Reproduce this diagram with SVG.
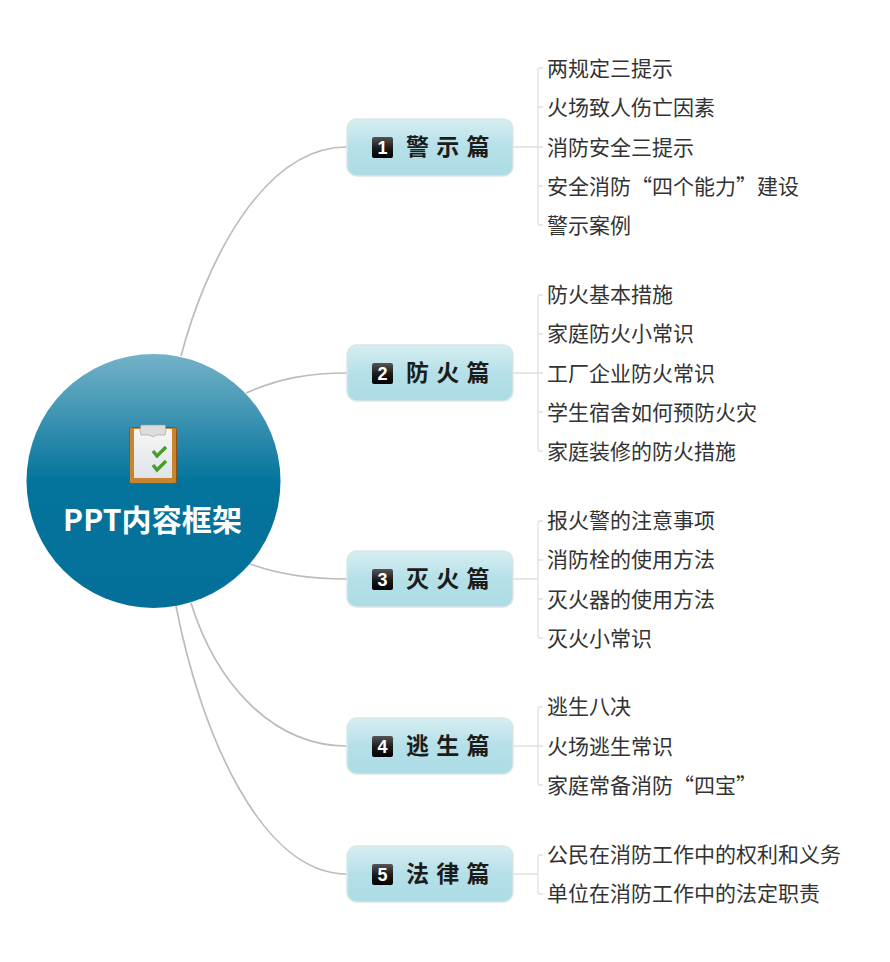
<svg xmlns="http://www.w3.org/2000/svg" width="890" height="962" viewBox="0 0 890 962">
<style>
text{font-family:"Noto Sans CJK SC","Liberation Sans",sans-serif}
.leaf{font-size:21px;fill:#333}
.title{font-size:23px;font-weight:700;fill:#1c1c1c;word-spacing:2px}
.box{fill:url(#bx);stroke:#dbe5e7;stroke-width:1.5}
.bad{fill:url(#bd)}
.num{font-size:18px;font-weight:700;fill:#fff;text-anchor:middle;font-family:"Liberation Sans",sans-serif}
.main{fill:none;stroke:#bcbcbc;stroke-width:1.7}
.sub{fill:none;stroke:#e0e0e0;stroke-width:1.3}
</style>
<defs>
<linearGradient id="bx" x1="0" y1="0" x2="0" y2="1"><stop offset="0" stop-color="#d6eef2"/><stop offset=".5" stop-color="#b5e0e8"/><stop offset="1" stop-color="#acdce5"/></linearGradient>
<linearGradient id="bd" x1="0" y1="0" x2="0" y2="1"><stop offset="0" stop-color="#555"/><stop offset=".5" stop-color="#1c1c1c"/><stop offset="1" stop-color="#000"/></linearGradient>
<linearGradient id="ci" x1="0" y1="0" x2="0" y2="1"><stop offset="0" stop-color="#74b2c8"/><stop offset=".5" stop-color="#04749c"/><stop offset="1" stop-color="#04709a"/></linearGradient>
<linearGradient id="pa" x1="0" y1="0" x2="0" y2="1"><stop offset="0" stop-color="#f6f6f4"/><stop offset="1" stop-color="#dfe4ea"/></linearGradient>
</defs>
<g id="connectors">
<path class="main" d="M181 356C205 265 262 147 347 147"/>
<path class="main" d="M246 393C280 378 310 373 347 373"/>
<path class="main" d="M250 564C280 575 310 579 347 579"/>
<path class="main" d="M191 603C215 680 270 746 347 746"/>
<path class="main" d="M176 606C200 730 260 874 347 874"/>
<path class="sub" d="M513 147H543M543 68H540Q538 68 538 70V223Q538 225 540 225H543M538 107H543M538 186H543"/>
<path class="sub" d="M513 373H543M543 295H540Q538 295 538 297V449Q538 451 540 451H543M538 334H543M538 412H543"/>
<path class="sub" d="M513 579H538M543 521H540Q538 521 538 523V636Q538 638 540 638H543M538 560H543M538 599H543"/>
<path class="sub" d="M513 746H543M543 707H540Q538 707 538 709V783Q538 785 540 785H543"/>
<path class="sub" d="M513 874H538M543 855H540Q538 855 538 857V892Q538 894 540 894H543"/>
</g>
<g id="center">
<circle cx="153.500" cy="481" r="127" fill="url(#ci)"/>
<g id="clipboard">
<rect x="129.500" y="427.500" width="47" height="56" rx="2" fill="#c8842f" stroke="#8a5218"/>
<rect x="134" y="429" width="38" height="49" fill="url(#pa)"/>
<path d="M141 425H165Q167 431 165 435H157L153 437L149 435H141Q139 431 141 425Z" fill="#dcdcdc" stroke="#999" stroke-width=".6"/>
<path d="M153 451L157 456L166 447" fill="none" stroke="#4a9c2c" stroke-width="3.400"/>
<path d="M153 465L157 470L166 461" fill="none" stroke="#4a9c2c" stroke-width="3.400"/>
</g>
<text x="63" y="531" textLength="179" font-size="30" font-weight="700" fill="#fff">PPT内容框架</text>
</g>
<g id="n1"><rect class="box" x="347" y="119" width="166" height="57" rx="10"/><rect class="bad" x="372" y="137" width="21" height="21" rx="2"/><text class="num" x="382.500" y="154">1</text><text class="title" x="406" y="155">警 示 篇</text></g>
<g id="n2"><rect class="box" x="347" y="345" width="166" height="56" rx="10"/><rect class="bad" x="372" y="363" width="21" height="21" rx="2"/><text class="num" x="382.500" y="380">2</text><text class="title" x="406" y="381">防 火 篇</text></g>
<g id="n3"><rect class="box" x="347" y="551" width="166" height="56" rx="10"/><rect class="bad" x="372" y="569" width="21" height="21" rx="2"/><text class="num" x="382.500" y="586">3</text><text class="title" x="406" y="587">灭 火 篇</text></g>
<g id="n4"><rect class="box" x="347" y="718" width="166" height="56" rx="10"/><rect class="bad" x="372" y="736" width="21" height="21" rx="2"/><text class="num" x="382.500" y="753">4</text><text class="title" x="406" y="754">逃 生 篇</text></g>
<g id="n5"><rect class="box" x="347" y="846" width="166" height="56" rx="10"/><rect class="bad" x="372" y="864" width="21" height="21" rx="2"/><text class="num" x="382.500" y="881">5</text><text class="title" x="406" y="882">法 律 篇</text></g>
<g id="leaves1"><text class="leaf" x="547" y="76">两规定三提示</text><text class="leaf" x="547" y="115">火场致人伤亡因素</text><text class="leaf" x="547" y="155">消防安全三提示</text><text class="leaf" x="547" y="194">安全消防“四个能力”建设</text><text class="leaf" x="547" y="233">警示案例</text></g>
<g id="leaves2"><text class="leaf" x="547" y="302">防火基本措施</text><text class="leaf" x="547" y="341">家庭防火小常识</text><text class="leaf" x="547" y="381">工厂企业防火常识</text><text class="leaf" x="547" y="420">学生宿舍如何预防火灾</text><text class="leaf" x="547" y="459">家庭装修的防火措施</text></g>
<g id="leaves3"><text class="leaf" x="547" y="528">报火警的注意事项</text><text class="leaf" x="547" y="567">消防栓的使用方法</text><text class="leaf" x="547" y="607">灭火器的使用方法</text><text class="leaf" x="547" y="646">灭火小常识</text></g>
<g id="leaves4"><text class="leaf" x="547" y="714">逃生八决</text><text class="leaf" x="547" y="754">火场逃生常识</text><text class="leaf" x="547" y="793">家庭常备消防“四宝”</text></g>
<g id="leaves5"><text class="leaf" x="547" y="862">公民在消防工作中的权利和义务</text><text class="leaf" x="547" y="901">单位在消防工作中的法定职责</text></g>
</svg>
